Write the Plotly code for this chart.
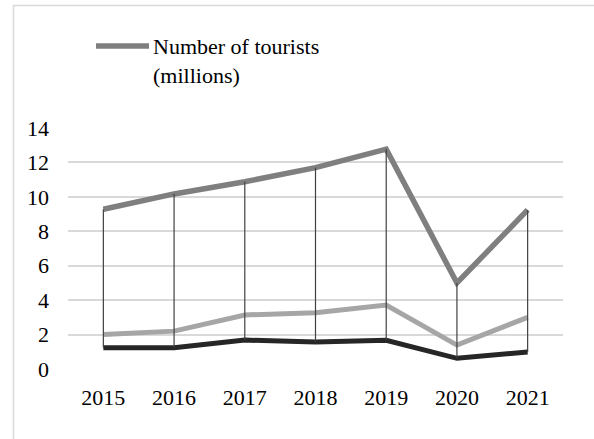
import plotly.graph_objects as go

years = ["2015", "2016", "2017", "2018", "2019", "2020", "2021"]
tourists = [9.28, 10.17, 10.88, 11.70, 12.77, 5.00, 9.24]
series_light = [2.00, 2.20, 3.14, 3.27, 3.72, 1.39, 3.00]
series_dark = [1.24, 1.24, 1.68, 1.57, 1.67, 0.62, 0.99]
y_ticks = [0, 2, 4, 6, 8, 10, 12, 14]
legend_label = "Number of tourists<br>(millions)"

W, H = 594, 439
L, R, T, B = 68, 31, 128, 70
PW, PH = W - L - R, H - T - B
FONT = "'Liberation Serif', 'Times New Roman', serif"


def px_x(px):
    return (px - L) / PW


def px_y(py):
    return (H - B - py) / PH


fig = go.Figure()
fig.add_trace(go.Scatter(x=years, y=series_dark, mode="lines",
                         line=dict(color="#262626", width=5), showlegend=False))
fig.add_trace(go.Scatter(x=years, y=series_light, mode="lines",
                         line=dict(color="#a6a6a6", width=5), showlegend=False))
fig.add_trace(go.Scatter(x=years, y=tourists, mode="lines",
                         line=dict(color="#7f7f7f", width=5.5), showlegend=False))

# high-low lines
hx, hy = [], []
for i, yr in enumerate(years):
    vals = [tourists[i], series_light[i], series_dark[i]]
    hx += [yr, yr, None]
    hy += [max(vals), min(vals), None]
fig.add_trace(go.Scatter(x=hx, y=hy, mode="lines",
                         line=dict(color="#404040", width=1.2), showlegend=False))

fig.update_layout(
    width=W, height=H,
    margin=dict(l=L, r=R, t=T, b=B),
    paper_bgcolor="white", plot_bgcolor="white",
    font=dict(family=FONT, size=22, color="black"),
    xaxis=dict(type="category", range=[-0.5, len(years) - 0.5], showgrid=False,
               showline=False, zeroline=False, ticks="", ticklabelstandoff=13,
               fixedrange=True),
    yaxis=dict(range=[0, 14], tickvals=y_ticks, showgrid=True, gridcolor="#d9d9d9",
               gridwidth=1.5, zeroline=False, showline=False, ticks="",
               ticklabelstandoff=18, fixedrange=True),
    showlegend=False,
    shapes=[
        dict(type="rect", xref="paper", yref="paper",
             x0=px_x(13.5), x1=px_x(620), y0=px_y(460), y1=px_y(5.5),
             line=dict(color="#d9d9d9", width=1.5), layer="below"),
        dict(type="line", xref="paper", yref="paper",
             x0=px_x(96), x1=px_x(149), y0=px_y(46), y1=px_y(46),
             line=dict(color="#7f7f7f", width=5.5)),
    ],
    annotations=[
        dict(xref="paper", yref="paper", x=px_x(151), y=px_y(32),
             xanchor="left", yanchor="top", align="left", showarrow=False,
             text=legend_label, font=dict(family=FONT, size=22, color="black")),
    ],
)

fig.write_html("out.html")
